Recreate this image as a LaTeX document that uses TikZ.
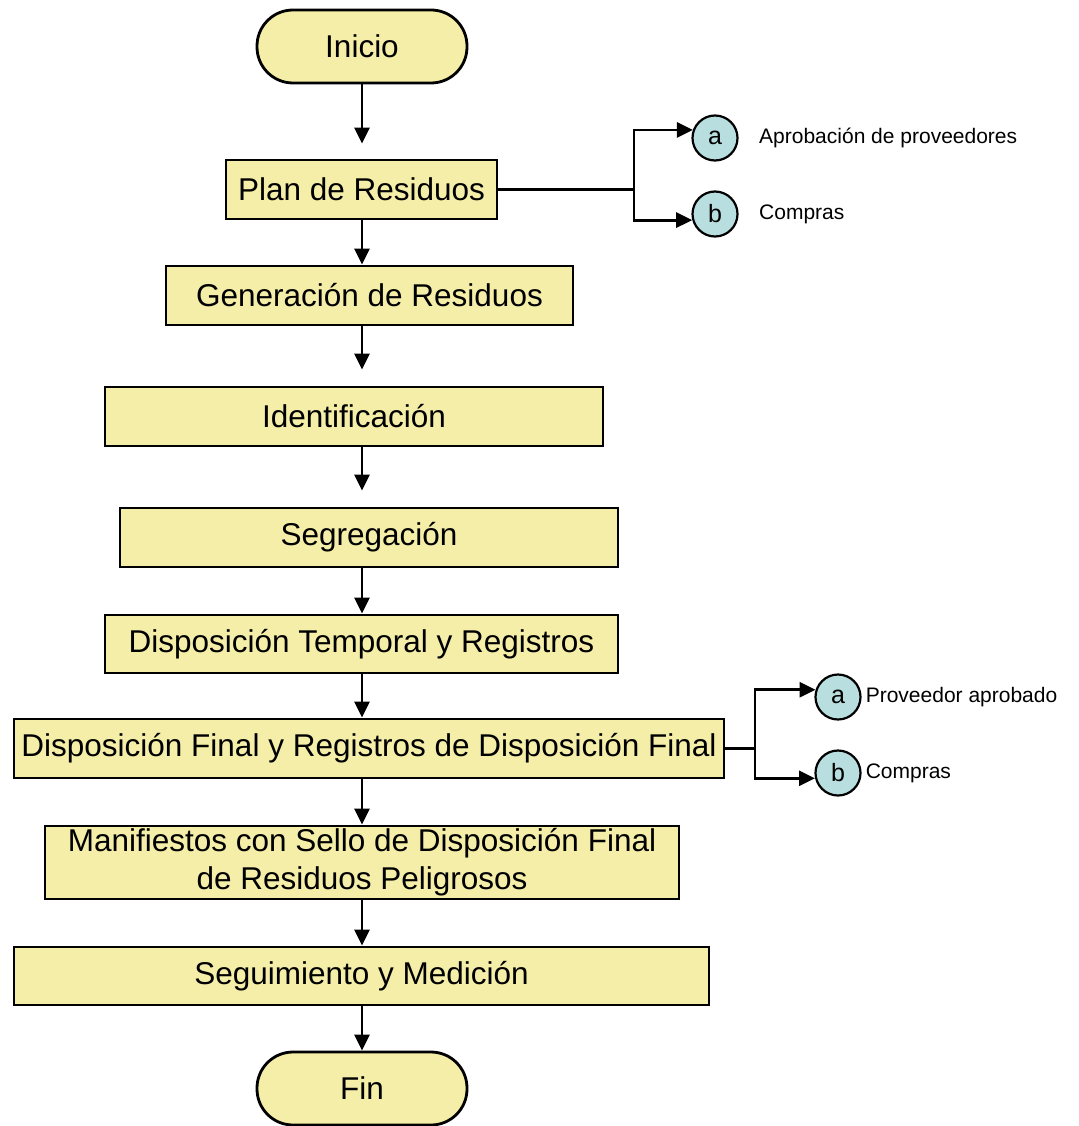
\documentclass[tikz,border=0pt]{standalone}
\usepackage{fontspec}
\setmainfont{Liberation Sans}
\usetikzlibrary{arrows.meta,calc}
\definecolor{boxfill}{RGB}{244,238,168}
\definecolor{circfill}{RGB}{184,222,224}
\begin{document}
\begin{tikzpicture}[x=1pt,y=-1pt,
  box/.style={draw=black, line width=2.8pt, fill=boxfill, inner sep=0pt, font=\fontsize{31.5}{38}\selectfont, align=center},
  term/.style={box, rounded corners=36pt, minimum width=210pt, minimum height=73pt},
  circ/.style={circle, draw=black, line width=2.2pt, fill=circfill, minimum size=45pt, inner sep=0pt, font=\fontsize{25}{30}\selectfont},
  lbl/.style={anchor=west, inner sep=0pt, font=\fontsize{21}{25}\selectfont},
  arr/.style={line width=2.8pt, -{Triangle[length=16pt,width=15pt]}},
  ln/.style={line width=2.8pt}
]
\useasboundingbox (0,0) rectangle (1078,1126);

\node[term] (inicio) at (362,46.5) {Inicio};
\node[box, minimum width=271pt, minimum height=59pt] (plan) at (361.5,189.5) {Plan de Residuos};
\node[box, minimum width=407pt, minimum height=59pt] (gen) at (369.5,295.5) {Generación de Residuos};
\node[box, minimum width=498pt, minimum height=59pt] (ident) at (354,416.5) {Identificación};
\node[box, minimum width=498pt, minimum height=59pt] (seg) at (369,537.5) {Segregación};
\node[box, minimum width=513pt, minimum height=58pt] (dtemp) at (361.5,644) {Disposición Temporal y Registros};
\node[box, minimum width=710pt, minimum height=59pt] (dfin) at (369,748.5) {Disposición Final y Registros de Disposición Final};
\node[box, minimum width=634pt, minimum height=73pt] (manif) at (362,862.5) {Manifiestos con Sello de Disposición Final\\de Residuos Peligrosos};
\node[box, minimum width=695pt, minimum height=58pt] (segui) at (361.5,976) {Seguimiento y Medición};
\node[term] (fin) at (362,1088.5) {Fin};

\draw[arr, shorten >=15pt] (inicio.south) -- (plan.north -| inicio);
\draw[arr] (plan.south -| inicio) -- (gen.north -| inicio);
\draw[arr, shorten >=16pt] (gen.south -| inicio) -- (ident.north -| inicio);
\draw[arr, shorten >=16pt] (ident.south -| inicio) -- (seg.north -| inicio);
\draw[arr] (seg.south -| inicio) -- (dtemp.north -| inicio);
\draw[arr] (dtemp.south -| inicio) -- (dfin.north -| inicio);
\draw[arr] (dfin.south -| inicio) -- (manif.north -| inicio);
\draw[arr] (manif.south -| inicio) -- (segui.north -| inicio);
\draw[arr] (segui.south -| inicio) -- (fin.north);

% branch 1
\node[circ] (ca1) at (715,138) {a};
\node[circ] (cb1) at (715,214) {b};
\node[lbl] (la1) at (759,138) {Aprobación de proveedores};
\node[lbl] (lb1) at (759,214) {Compras};
\coordinate (j1) at (634,189.5);
\draw[ln] (plan.east) -- (j1);
\draw[arr] (j1) |- (ca1.160);
\draw[arr] (j1) |- (cb1.195);

% branch 2
\node[circ] (ca2) at (838,697) {a};
\node[circ] (cb2) at (838,773) {b};
\node[lbl] (la2) at ([xshift=4pt]ca2.east) {Proveedor aprobado};
\node[lbl] (lb2) at ([xshift=4pt]cb2.east) {Compras};
\coordinate (j2) at (755,748.5);
\draw[ln] (dfin.east) -- (j2);
\draw[arr] (j2) |- (ca2.162);
\draw[arr] (j2) |- (cb2.193);
\end{tikzpicture}
\end{document}
